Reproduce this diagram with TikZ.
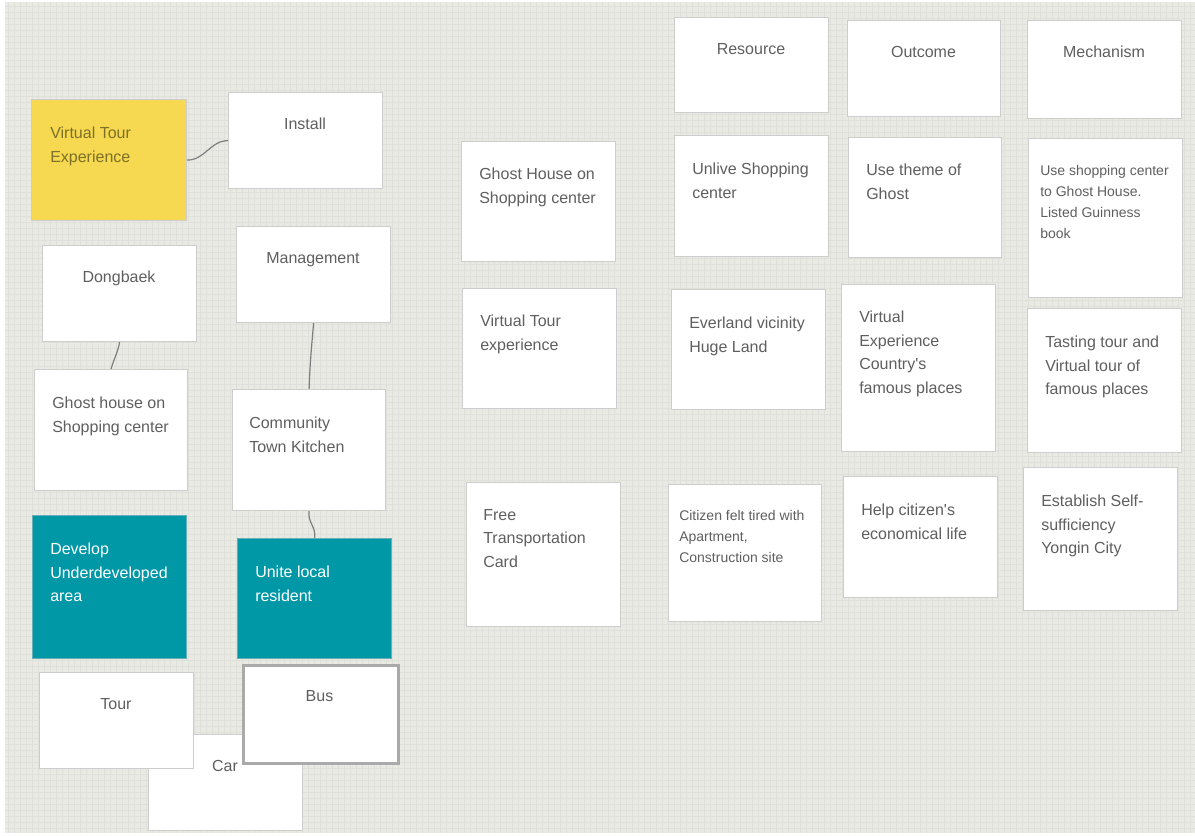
\documentclass[tikz,border=0pt]{standalone}
\usepackage{fontspec}
\setmainfont{Liberation Sans}
\definecolor{bgc}{RGB}{234,234,229}
\definecolor{gridc}{RGB}{224,224,219}
\definecolor{cardline}{RGB}{205,205,205}
\definecolor{txtc}{RGB}{95,95,95}
\definecolor{yel}{RGB}{246,217,80}
\definecolor{yeltxt}{RGB}{125,112,40}
\definecolor{teal}{RGB}{0,151,167}
\definecolor{linkc}{RGB}{125,125,125}
\definecolor{busline}{RGB}{170,170,170}
\tikzset{
  card/.style={draw=cardline, fill=white, line width=0.9pt, inner sep=0pt},
  scard/.style={card},
  ycard/.style={card, fill=yel},
  tcard/.style={card, fill=teal, draw=teal!80!black!60},
  buscard/.style={card, draw=busline, line width=2.2pt},
  cardtxt/.style={inner sep=0pt, align=left, text=txtc, font=\fontsize{12}{17.6}\selectfont},
  scardtxt/.style={cardtxt, font=\fontsize{10.5}{15.8}\selectfont},
  ycardtxt/.style={cardtxt, text=yeltxt},
  tcardtxt/.style={cardtxt, text=white},
  ctxt/.style={cardtxt, align=center, anchor=mid},
  link/.style={draw=linkc, line width=0.9pt}
}
\newcommand\lcard[9]{%
  \node[#6, anchor=north west, minimum width={(#4-#2)*0.75pt}, minimum height={(#5-#3)*0.75pt}] (#1) at (#2,#3) {};
  \node[#6txt, anchor=north west] (#1t) at (#7,{#8-5}) {#9};}
\newcommand\ccard[7]{%
  \node[#6, anchor=north west, minimum width={(#4-#2)*0.75pt}, minimum height={(#5-#3)*0.75pt}] (#1) at (#2,#3) {};
  \node[ctxt] (#1t) at ({(#2+#4)/2},{#3+34}) {#7};}
\begin{document}
\begin{tikzpicture}[x=0.75pt,y=-0.75pt]
\useasboundingbox (0,0) rectangle (1195,835);
\fill[white] (0,0) rectangle (1195,835);
\fill[bgc] (5,2) rectangle (1195,833);
\foreach \gx in {8,14,...,1192} \draw[gridc, line width=0.3pt] (\gx,2) -- (\gx,833);
\foreach \gy in {6,12,...,830} \draw[gridc, line width=0.3pt] (5,\gy) -- (1195,\gy);

% ---------- left cluster ----------
\lcard{vte}{31}{99}{186}{220}{ycard}{50}{132}{Virtual Tour\\Experience}
\ccard{install}{228}{92}{382}{188}{card}{Install}
\ccard{dong}{42}{245}{196}{341}{card}{Dongbaek}
\ccard{mgmt}{236}{226}{390}{322}{card}{Management}
\lcard{ghl}{34}{369}{187}{490}{card}{52}{402}{Ghost house on\\Shopping center}
\lcard{ctk}{232}{389}{385}{510}{card}{249}{422}{Community\\Town Kitchen}
\lcard{dev}{32}{515}{186}{658}{tcard}{50}{548}{Develop\\Underdeveloped\\area}
\lcard{unite}{237}{538}{391}{658}{tcard}{255}{571}{Unite local\\resident}
\ccard{car}{148}{734}{302}{830}{card}{}
\ccard{tour}{39}{672}{193}{768}{card}{Tour}
\node[ctxt] (cart) at (225,768) {Car};
\ccard{bus}{242}{664}{397}{762}{buscard}{Bus}

\draw[link] (vte.east) to[out=0,in=180] (install.west);
\draw[link] (dong.south) to[out=-100,in=75] (ghl.north);
\draw[link] (mgmt.south) to[out=-95,in=88] (ctk.north);
\draw[link] (ctk.south) to[out=-100,in=80] (unite.north);

% ---------- right grid ----------
\ccard{res}{674}{17}{828}{112}{card}{Resource}
\ccard{out}{847}{20}{1000}{116}{card}{Outcome}
\ccard{mech}{1027}{20}{1181}{118}{card}{Mechanism}

\lcard{gh}{461}{141}{615}{261}{card}{479}{173}{Ghost House on\\Shopping center}
\lcard{unl}{674}{135}{828}{256}{card}{692}{168}{Unlive Shopping\\center}
\lcard{theme}{848}{137}{1001}{257}{card}{866}{169}{Use theme of\\Ghost}
\lcard{usesc}{1028}{138}{1182}{297}{scard}{1040}{170}{Use shopping center\\to Ghost House.\\Listed Guinness\\book}

\lcard{vtour}{462}{288}{616}{408}{card}{480}{320}{Virtual Tour\\experience}
\lcard{ever}{671}{289}{825}{409}{card}{689}{322}{Everland vicinity\\Huge Land}
\lcard{vexp}{841}{284}{995}{451}{card}{859}{316}{Virtual\\Experience\\Country\textquotesingle s\\famous places}
\lcard{taste}{1027}{308}{1181}{452}{card}{1045}{341}{Tasting tour and\\Virtual tour of\\famous places}

\lcard{free}{466}{482}{620}{626}{card}{483}{514}{Free\\Transportation\\Card}
\lcard{citz}{668}{484}{821}{621}{scard}{679}{515}{Citizen felt tired with\\Apartment,\\Construction site}
\lcard{help}{843}{476}{997}{597}{card}{861}{509}{Help citizen\textquotesingle s\\economical life}
\lcard{estab}{1023}{467}{1177}{610}{card}{1041}{500}{Establish Self-\\sufficiency\\Yongin City}
\end{tikzpicture}
\end{document}
